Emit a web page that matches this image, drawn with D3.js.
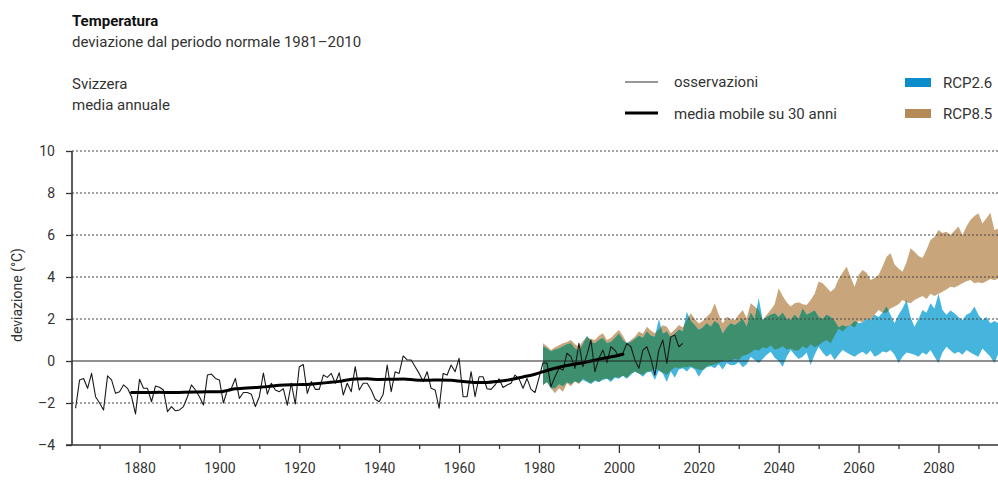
<!DOCTYPE html>
<html>
<head>
<meta charset="utf-8">
<title>Temperatura</title>
<script src="https://d3js.org/d3.v7.min.js"></script>
<style>
  body { margin: 0; background: #fff; }
  svg text { font-family: "Liberation Sans Narrow", Roboto, sans-serif; fill: #333; }
  .grid line { stroke: #444; stroke-width: 1.2; stroke-dasharray: 2,2; }
</style>
</head>
<body>
<div id="chart"></div>
<script>
// osservazioni annuali (deviazione in °C), dal 1864
var obsStart = 1864;
var obsValues = [
  -2.25, -0.9, -0.83, -1.3, -0.59, -1.7,
  -2.0, -2.33, -0.71, -0.9, -1.54, -1.46, -1.14, -1.3, -1.7, -2.52,
  -0.87, -1.3, -1.3, -1.94, -1.19, -1.25, -1.38, -2.41, -2.17, -2.37,
  -2.33, -2.17, -1.7, -1.14, -1.38, -1.7, -2.1, -0.67, -0.62, -0.83,
  -0.9, -2.0, -1.38, -1.3, -0.83, -1.78, -1.5, -1.5, -1.58, -2.17,
  -1.7, -0.57, -1.58, -1.06, -1.38, -1.46, -1.32, -2.1, -1.06, -2.05,
  -0.27, -0.17, -1.54, -0.98, -1.35, -1.35, -0.67, -0.78, -0.59, -1.06,
  -0.56, -1.62, -1.06, -1.46, -0.27, -1.38, -1.06, -1.06, -1.38, -1.82,
  -1.94, -1.58, -0.19, -1.46, -0.51, -0.59, 0.24, 0.05, 0.05, -0.27,
  -0.59, -0.98, -0.51, -1.3, -1.38, -2.25, -0.59, -0.67, -0.19, -0.51,
  0.13, -1.7, -1.7, -0.51, -1.7, -0.75, -0.75, -1.32, -1.35, -1.14,
  -0.85, -1.26, -1.14, -1.06, -0.67, -0.85, -1.3, -0.83, -1.35, -1.5,
  -0.8, -0.08, -0.1, -1.22, -0.75, -0.35, -0.43, 0.37, 0.21, -0.35,
  0.84, -0.27, 0.29, 1.0, -0.51, 0.13, 0.52, -0.08, 0.68, 0.52,
  0.21, 0.37, 0.84, 0.68, 0.05, -0.35, 0.52, 0.68, 0.13, -0.67,
  0.52, 1.0, -0.11, 1.16, 1.24, 0.68, 0.84
];

// media mobile su 30 anni
var maYears = [1878, 1882, 1885, 1888, 1891, 1894, 1897, 1900, 1902, 1904, 1906, 1909,
  1912, 1915, 1918, 1921, 1924, 1927, 1930, 1932, 1934, 1937, 1940, 1943, 1946, 1949,
  1952, 1955, 1958, 1961, 1964, 1967, 1970, 1973, 1976, 1979, 1982, 1985, 1988, 1991,
  1994, 1997, 2000, 2001];
var maValues = [-1.5, -1.5, -1.49, -1.5, -1.49, -1.48, -1.47, -1.47, -1.4, -1.32, -1.3, -1.26,
  -1.22, -1.16, -1.13, -1.12, -1.08, -1.03, -0.97, -0.9, -0.86, -0.85, -0.88, -0.87, -0.86, -0.9,
  -0.92, -0.9, -0.92, -0.98, -1.02, -1.02, -0.96, -0.88, -0.76, -0.63, -0.45, -0.3, -0.18, -0.08,
  0.04, 0.16, 0.27, 0.32];

// scenari, dal 1981
var projStart = 1981;
var rcp85High = [
  0.84, 0.7, 0.52, 0.65, 0.75, 0.84, 0.9, 1.0, 0.8, 0.68,
  0.95, 1.16, 1.05, 1.0, 1.2, 1.32, 1.0, 1.1, 1.3, 1.48,
  1.2, 0.84, 1.0, 1.16, 1.4, 1.3, 1.63, 1.45, 1.32, 1.5,
  1.7, 1.63, 1.32, 1.5, 1.71, 1.6, 1.95, 2.27, 2.0, 1.79,
  1.9, 2.11, 2.3, 2.75, 2.2, 1.79, 2.11, 2.0, 1.95, 2.2,
  2.43, 2.03, 2.75, 2.59, 2.43, 1.95, 2.2, 2.43, 2.7, 3.46,
  3.1, 2.8, 2.6, 2.75, 2.8, 2.7, 2.67, 2.9, 3.2, 3.78,
  3.7, 3.5, 3.3, 3.45, 3.9, 4.2, 4.5, 4.0, 3.54, 4.1,
  4.33, 4.2, 3.86, 3.95, 4.1, 4.5, 4.97, 5.13, 4.6, 4.4,
  4.25, 4.7, 5.37, 5.2, 5.0, 4.9, 5.3, 5.76, 5.9, 6.24,
  6.1, 6.15, 6.0, 6.2, 6.4, 6.0, 6.4, 6.71, 6.9, 7.03,
  6.55, 6.8, 7.06, 6.24, 6.3, 6.1
];
var rcp85Low = [
  -1.14, -1.0, -1.3, -1.54, -1.3, -1.46, -1.06, -1.2, -0.98, -1.1,
  -0.83, -0.95, -1.06, -0.9, -1.0, -0.85, -0.83, -0.9, -0.75, -0.8,
  -0.7, -0.8, -0.6, -0.5, -0.6, -0.65, -0.5, -0.5, -0.35, -0.45,
  -0.55, -0.67, -0.45, -0.3, -0.35, -0.3, -0.3, -0.25, -0.35, -0.4,
  -0.43, -0.25, -0.2, -0.15, -0.1, 0.0, 0.05, 0.0, 0.1, 0.05,
  0.25, 0.3, 0.4, 0.55, 0.5, 0.65, 0.6, 0.75, 0.55, 0.6,
  0.7, 0.55, 0.6, 0.5, 0.5, 0.7, 0.6, 0.8, 0.65, 0.75,
  0.9, 1.0, 0.85, 1.2, 1.55, 1.4, 1.6, 1.7, 1.6, 1.9,
  1.85, 2.0, 1.95, 2.2, 2.43, 2.3, 2.3, 2.5, 2.6, 2.7,
  2.9, 2.8, 2.75, 2.9, 3.0, 3.1, 2.95, 3.2, 3.1, 3.2,
  3.3, 3.4, 3.54, 3.5, 3.6, 3.7, 3.8, 3.86, 3.7, 3.75,
  3.7, 3.8, 3.9, 3.85, 3.94, 3.9
];
var rcp26High = [
  0.7, 0.6, 0.45, 0.55, 0.6, 0.7, 0.8, 0.85, 0.6, 0.5,
  0.8, 1.2, 0.9, 0.85, 1.0, 1.1, 0.85, 0.9, 1.1, 1.3,
  1.0, 0.84, 0.9, 1.05, 1.2, 1.1, 1.4, 1.2, 1.16, 2.0,
  1.3, 1.4, 1.1, 1.3, 1.5, 1.4, 2.35, 1.9, 1.7, 1.48,
  1.6, 1.8, 1.63, 1.9, 1.75, 1.3, 1.6, 1.8, 1.7, 1.85,
  2.0, 1.63, 2.3, 2.0, 3.0, 1.95, 2.1, 2.2, 2.27, 2.1,
  2.3, 2.0, 1.95, 2.2, 2.0, 2.5, 2.2, 2.3, 2.4, 2.1,
  2.0, 2.2, 2.1, 1.9, 1.6, 1.7, 1.63, 1.7, 1.9, 1.8,
  1.85, 2.0, 1.95, 2.2, 2.1, 2.3, 2.6, 2.2, 1.8, 2.2,
  2.5, 2.9, 2.1, 1.63, 2.0, 2.43, 2.3, 2.75, 2.5, 3.2,
  2.43, 2.2, 2.4, 2.27, 2.1, 1.95, 2.2, 2.3, 2.6, 2.2,
  1.95, 2.1, 1.8, 1.9, 1.8, 1.85
];
var rcp26Low = [
  -1.14, -1.0, -1.3, -1.3, -1.1, -1.2, -1.0, -1.1, -0.95, -1.05,
  -0.9, -1.0, -1.1, -0.95, -1.0, -0.9, -0.85, -1.0, -0.8, -0.85,
  -0.7, -0.85, -0.65, -0.5, -0.6, -0.75, -0.55, -0.5, -0.9, -0.45,
  -0.6, -1.0, -0.5, -0.8, -0.4, -0.35, -0.5, -0.3, -0.4, -0.75,
  -0.45, -0.3, -0.25, -0.35, -0.15, -0.4, -0.1, -0.2, -0.19, -0.05,
  -0.3, -0.15, 0.2, 0.05, -0.1, 0.1, 0.3, 0.44, 0.15, 0.0,
  -0.27, 0.2, 0.52, 0.3, 0.1, 0.2, 0.4, -0.19, 0.3, 0.68,
  0.4, 0.2, 0.35, 0.05, 0.3, 0.52, 0.4, 0.3, 0.2, 0.35,
  0.44, 0.3, 0.5, 0.2, 0.3, 0.45, 0.4, 0.52, 0.3, -0.1,
  0.2, 0.4, 0.36, 0.3, 0.2, 0.4, 0.3, 0.52, 0.2, -0.1,
  0.4, 0.68, 0.5, 0.35, 0.44, 0.3, 0.52, 0.4, 0.3, 0.2,
  0.6, 0.4, 0.2, -0.1, 0.36, 0.3
];

var yTicks = [-4, -2, 0, 2, 4, 6, 8, 10];
var xLabelYears = [1880, 1900, 1920, 1940, 1960, 1980, 2000, 2020, 2040, 2060, 2080];
var xMinorYears = [1870, 1890, 1910, 1930, 1950, 1970, 1990, 2010, 2030, 2050, 2070, 2090];

var obs = obsValues.map(function(v, i) { return { year: obsStart + i, value: v }; });
var ma = maYears.map(function(yr, i) { return { year: yr, value: maValues[i] }; });
var proj = rcp85High.map(function(v, i) {
  return { year: projStart + i, hi85: v, lo85: rcp85Low[i], hi26: rcp26High[i], lo26: rcp26Low[i] };
});

var W = 998, H = 480;
var svg = d3.select("#chart").append("svg").attr("width", W).attr("height", H);

var x = d3.scaleLinear().domain([1863.1, 2094.9]).range([72, 998]);
var y = d3.scaleLinear().domain([-4, 10]).range([445, 151]);

svg.append("clipPath").attr("id", "plotclip")
  .append("rect").attr("x", 72).attr("y", 140).attr("width", W - 72).attr("height", 310);

var plot = svg.append("g").attr("clip-path", "url(#plotclip)");

var area85 = d3.area().x(function(d) { return x(d.year); })
  .y0(function(d) { return y(d.lo85); }).y1(function(d) { return y(d.hi85); });
var area26 = d3.area().x(function(d) { return x(d.year); })
  .y0(function(d) { return y(d.lo26); }).y1(function(d) { return y(d.hi26); });

plot.append("path").datum(proj).attr("d", area85).attr("fill", "#c8a57b");
plot.append("path").datum(proj).attr("d", area26).attr("fill", "#46b5dd");
svg.append("clipPath").attr("id", "clip85")
  .append("path").datum(proj).attr("d", area85);
plot.append("path").datum(proj).attr("d", area26).attr("fill", "#3e8f6d")
  .attr("clip-path", "url(#clip85)");

// griglia tratteggiata
svg.append("g").attr("class", "grid")
  .selectAll("line").data(yTicks.filter(function(t) { return t !== 0 && t !== -4; }))
  .enter().append("line")
  .attr("x1", 72).attr("x2", W)
  .attr("y1", function(d) { return y(d); }).attr("y2", function(d) { return y(d); });

svg.append("line").attr("x1", 72).attr("x2", W).attr("y1", y(0)).attr("y2", y(0))
  .attr("stroke", "#222").attr("stroke-width", 1.2);

var line = d3.line().x(function(d) { return x(d.year); }).y(function(d) { return y(d.value); });
plot.append("path").datum(obs).attr("d", line)
  .attr("fill", "none").attr("stroke", "#1a1a1a").attr("stroke-width", 1.1).attr("stroke-linejoin", "round");
plot.append("path").datum(ma).attr("d", line.curve(d3.curveMonotoneX))
  .attr("fill", "none").attr("stroke", "#000").attr("stroke-width", 3).attr("stroke-linecap", "round");

// assi
var fmt = function(d) { return d < 0 ? "\u2013" + Math.abs(d) : String(d); };
var yAxis = svg.append("g").attr("transform", "translate(72,0)")
  .call(d3.axisLeft(y).tickValues(yTicks).tickSize(6).tickPadding(11).tickFormat(fmt));
yAxis.select(".domain").remove();
yAxis.selectAll("line").attr("stroke", "#333").attr("stroke-width", 1.3);
yAxis.selectAll("text").attr("font-size", 14).attr("fill", "#333").attr("font-family", null);

var xAxis = svg.append("g").attr("transform", "translate(0,445)")
  .call(d3.axisBottom(x).tickValues(xLabelYears).tickSize(8).tickPadding(10).tickFormat(d3.format("d")));
xAxis.select(".domain").remove();
xAxis.selectAll("line").attr("stroke", "#333").attr("stroke-width", 1.3);
xAxis.selectAll("text").attr("font-size", 14).attr("fill", "#333").attr("font-family", null);

var xMinor = svg.append("g").attr("transform", "translate(0,445)")
  .call(d3.axisBottom(x).tickValues(xMinorYears).tickSize(4).tickFormat(""));
xMinor.select(".domain").remove();
xMinor.selectAll("line").attr("stroke", "#333").attr("stroke-width", 1.3);

svg.append("line").attr("x1", 72).attr("x2", 72).attr("y1", y(10)).attr("y2", y(-4))
  .attr("stroke", "#333").attr("stroke-width", 1.6);
svg.append("line").attr("x1", 66).attr("x2", W).attr("y1", y(-4)).attr("y2", y(-4))
  .attr("stroke", "#333").attr("stroke-width", 1.6);

svg.append("text").attr("transform", "translate(22,295) rotate(-90)")
  .attr("text-anchor", "middle").attr("font-size", 14).text("deviazione (°C)");

// titoli
svg.append("text").attr("x", 72).attr("y", 26).attr("font-size", 15)
  .attr("font-weight", "bold").style("fill", "#111").text("Temperatura");
svg.append("text").attr("x", 72).attr("y", 47).attr("font-size", 15)
  .text("deviazione dal periodo normale 1981\u20132010");
svg.append("text").attr("x", 72).attr("y", 89).attr("font-size", 15).text("Svizzera");
svg.append("text").attr("x", 72).attr("y", 110).attr("font-size", 15).text("media annuale");

// legenda
var leg = svg.append("g");
leg.append("line").attr("x1", 625).attr("x2", 658).attr("y1", 82).attr("y2", 82)
  .attr("stroke", "#333").attr("stroke-width", 1.2);
leg.append("text").attr("x", 674).attr("y", 87).attr("font-size", 15).text("osservazioni");
leg.append("line").attr("x1", 625).attr("x2", 658).attr("y1", 113).attr("y2", 113)
  .attr("stroke", "#000").attr("stroke-width", 3);
leg.append("text").attr("x", 674).attr("y", 119).attr("font-size", 15).text("media mobile su 30 anni");
leg.append("rect").attr("x", 905).attr("y", 78).attr("width", 26).attr("height", 9).attr("fill", "#0d8ccb");
leg.append("text").attr("x", 943).attr("y", 88).attr("font-size", 15).text("RCP2.6");
leg.append("rect").attr("x", 905).attr("y", 109).attr("width", 26).attr("height", 9).attr("fill", "#b48a56");
leg.append("text").attr("x", 943).attr("y", 119).attr("font-size", 15).text("RCP8.5");
</script>
</body>
</html>
